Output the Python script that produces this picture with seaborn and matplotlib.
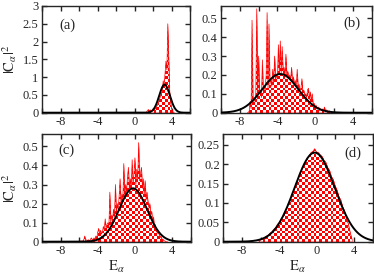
import numpy as np
import matplotlib
matplotlib.use("Agg")
import matplotlib.pyplot as plt
from matplotlib.colors import ListedColormap
from matplotlib.ticker import MultipleLocator, FormatStrFormatter
import seaborn as sns

sns.set_style("ticks")
plt.rcParams['font.family'] = ['Liberation Serif', 'DejaVu Serif']
plt.rcParams['mathtext.fontset'] = 'stix'
plt.rcParams['axes.unicode_minus'] = False

# ---------------- data ----------------
panel_labels = ["(a)", "(b)", "(c)", "(d)"]

# panel (a): |C|^2 sampled from E=1.2, step 0.1
a_start, a_step = 1.2, 0.1
a_vals = [0, 0.02, 0.06, 0.09, 0.05, 0.08, 0.04, 0.06, 0.05, 0.08,
          0.10, 0.12, 0.18, 0.22, 0.30, 0.38, 0.45, 0.55, 0.60, 0.90,
          0.75, 1.10, 1.45, 1.20, 2.50, 1.50, 0.60, 0.30, 0.12, 0.04,
          0.01, 0]

# panel (b): from E=-7.2, step 0.1
b_start, b_step = -7.2, 0.1
b_vals = [0, 0, 0.01, 0.06, 0.02, 0.49, 0.05, 0.08, 0.06, 0.10,
          0.55, 0.08, 0.30, 0.10, 0.12, 0.08, 0.28, 0.10, 0.14, 0.12,
          0.20, 0.53, 0.13, 0.47, 0.15, 0.18, 0.14, 0.23, 0.16, 0.30,
          0.17, 0.20, 0.18, 0.36, 0.20, 0.38, 0.21, 0.35, 0.22, 0.24,
          0.19, 0.31, 0.20, 0.22, 0.18, 0.20, 0.17, 0.24, 0.16, 0.19,
          0.15, 0.17, 0.14, 0.23, 0.13, 0.15, 0.12, 0.13, 0.18, 0.11,
          0.12, 0.09, 0.10, 0.08, 0.12, 0.13, 0.07, 0.11, 0.06, 0.10,
          0.04, 0.05, 0.03, 0.04, 0.02, 0.02, 0.03, 0.01, 0.02, 0.01,
          0.02, 0.01, 0.03, 0.01, 0.015, 0.01, 0.005, 0.01, 0.005, 0.005,
          0, 0, 0]

# panel (c): from E=-6.0, step 0.1
c_start, c_step = -6.0, 0.1
c_vals = [0, 0, 0.005, 0, 0.005, 0.01, 0.03, 0.005, 0.01, 0.005,
          0.01, 0.005, 0.01, 0.02, 0.01, 0.015, 0.02, 0.01, 0.03, 0.02,
          0.05, 0.07, 0.03, 0.06, 0.04, 0.05, 0.08, 0.06, 0.12, 0.07,
          0.09, 0.10, 0.08, 0.26, 0.10, 0.14, 0.12, 0.17, 0.13, 0.30,
          0.15, 0.20, 0.17, 0.24, 0.33, 0.20, 0.25, 0.22, 0.41, 0.24,
          0.30, 0.26, 0.34, 0.39, 0.27, 0.33, 0.28, 0.43, 0.30, 0.36,
          0.44, 0.30, 0.38, 0.33, 0.52, 0.32, 0.36, 0.39, 0.28, 0.33,
          0.25, 0.32, 0.22, 0.26, 0.21, 0.18, 0.20, 0.14, 0.16, 0.10,
          0.13, 0.07, 0.09, 0.05, 0.06, 0.04, 0.05, 0.02, 0.03, 0.01,
          0.015, 0.005, 0.005, 0, 0, 0]

# panel (d): from E=-6.2, step 0.2
d_start, d_step = -6.2, 0.2
d_vals = [0.002, 0.004, 0.006, 0.010, 0.014, 0.016, 0.022, 0.025, 0.032, 0.035,
          0.045, 0.049, 0.059, 0.065, 0.078, 0.085, 0.100, 0.108, 0.125, 0.133,
          0.151, 0.160, 0.176, 0.185, 0.198, 0.205, 0.216, 0.221, 0.230, 0.233,
          0.240, 0.231, 0.230, 0.224, 0.220, 0.210, 0.205, 0.191, 0.184, 0.168,
          0.160, 0.144, 0.133, 0.116, 0.108, 0.090, 0.080, 0.060, 0.046, 0.024,
          0.006]

# Gaussian fits (centre, width, peak height) per panel
gauss_mu = [3.25, -3.7, -0.2, -0.2]
gauss_sigma = [0.58, 1.92, 1.5, 2.15]
gauss_amp = [0.79, 0.205, 0.28, 0.23]

ylims = [3.0, 0.565, 0.565, 0.278]
ymajor = [0.5, 0.1, 0.1, 0.05]
label_pos = [(0.12, 0.82), (0.81, 0.84), (0.11, 0.85), (0.81, 0.82)]

series = [(a_start, a_step, a_vals), (b_start, b_step, b_vals),
          (c_start, c_step, c_vals), (d_start, d_step, d_vals)]

# ---------------- figure ----------------
W, H = 374, 275
fig = plt.figure(figsize=(W / 100, H / 100), dpi=100)
rects = [(42, 6, 190, 112.7), (221, 6, 371.5, 112.7),
         (42, 134, 190.7, 241.7), (223.3, 134, 372.5, 241.7)]
axes = []
for (x0, y0, x1, y1) in rects:
    axes.append(fig.add_axes([x0 / W, 1 - y1 / H, (x1 - x0) / W, (y1 - y0) / H]))

xg = np.linspace(-10, 6, 600)
checker_cmap = ListedColormap(['#ff0000', '#ffffff'])
cell_px = 2.8

for i, ax in enumerate(axes):
    start, step, vals = series[i]
    vals = np.array(vals, dtype=float)
    E = np.round(start + step * np.arange(len(vals)), 3)
    # red filled area with checker pattern
    poly = ax.fill_between(E, 0, vals, color='#ff0000', lw=0, zorder=2)
    pos = ax.get_position()
    nx = int(round(pos.width * W / cell_px))
    ny = int(round(pos.height * H / cell_px))
    pattern = np.add.outer(np.arange(ny), np.arange(nx)) % 2
    im = ax.imshow(pattern, cmap=checker_cmap, extent=[-10, 6, 0, ylims[i]],
                   aspect='auto', interpolation='nearest', origin='lower', zorder=2.5)
    im.set_clip_path(poly.get_paths()[0], transform=ax.transData)
    sns.lineplot(x=E, y=vals, ax=ax, color='#ff0000', lw=0.5, zorder=3, sort=False)
    g = gauss_amp[i] * np.exp(-(xg - gauss_mu[i]) ** 2 / (2 * gauss_sigma[i] ** 2))
    sns.lineplot(x=xg, y=g, ax=ax, color='black', lw=1.4, zorder=4)

    ax.set_xlim(-10, 6)
    ax.set_ylim(0, ylims[i])
    ax.xaxis.set_major_locator(MultipleLocator(4))
    ax.xaxis.set_minor_locator(MultipleLocator(2))
    ax.xaxis.set_major_formatter(FormatStrFormatter('%g'))
    ax.yaxis.set_major_locator(MultipleLocator(ymajor[i]))
    ax.yaxis.set_major_formatter(FormatStrFormatter('%g'))
    ax.tick_params(which='both', direction='in', top=True, right=True,
                   width=1.0, labelsize=9, pad=2.5)
    ax.tick_params(which='major', length=3.6)
    ax.tick_params(which='minor', length=3.6)
    for s in ax.spines.values():
        s.set_linewidth(1.0)
    ax.set_xlabel('')
    ax.set_ylabel('')
    ax.text(label_pos[i][0], label_pos[i][1], panel_labels[i], transform=ax.transAxes,
            fontsize=10.5, ha='left', va='center')

axes[0].set_ylabel(r'$|\mathrm{C}_{\alpha}|^{2}$', fontsize=10.5, labelpad=3)
axes[2].set_ylabel(r'$|\mathrm{C}_{\alpha}|^{2}$', fontsize=10.5, labelpad=3)
axes[2].set_xlabel(r'$\mathrm{E}_{\alpha}$', fontsize=10.5, labelpad=1)
axes[3].set_xlabel(r'$\mathrm{E}_{\alpha}$', fontsize=10.5, labelpad=1)

fig.savefig('out.png', dpi=100)
